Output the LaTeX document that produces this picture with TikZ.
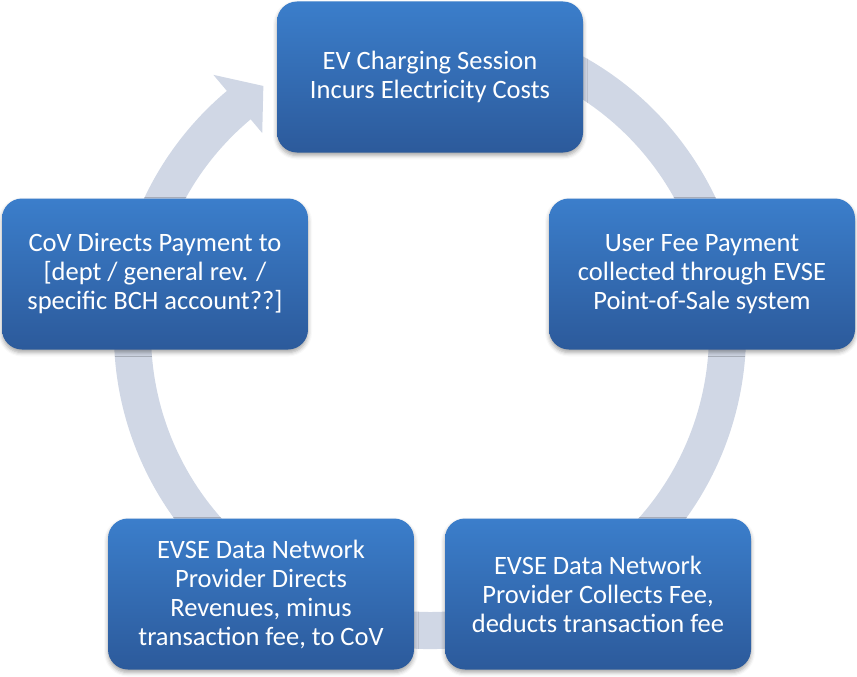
\documentclass[tikz,border=0pt]{standalone}
\usepackage{fontspec}
\setmainfont{Carlito}
\usetikzlibrary{shadows.blur}
\definecolor{boxtop}{RGB}{59,126,203}
\definecolor{boxbot}{RGB}{44,90,155}
\definecolor{ringcol}{RGB}{208,215,229}
\tikzset{
  stage/.style={rectangle, rounded corners=20pt, minimum width=306pt, minimum height=151pt,
    top color=boxtop, bottom color=boxbot, draw=none, text=white, align=center,
    font=\fontsize{26.5}{29}\selectfont, inner sep=4pt,
    blur shadow={shadow xshift=0pt, shadow yshift=-3pt, shadow blur radius=4pt, shadow opacity=35}}
}
\begin{document}
\begin{tikzpicture}[x=1pt, y=-1pt]
\useasboundingbox (0,0) rectangle (857,677);
\coordinate (ctr) at (430,333);
% circular arrow behind the stages
\fill[ringcol] ([shift={(ctr)}]-75:316) arc[start angle=-75, end angle=230, radius=316]
  -- ([shift={(ctr)}]230:337) -- ([shift={(ctr)}]236:298) -- ([shift={(ctr)}]230:261)
  -- ([shift={(ctr)}]230:279) arc[start angle=230, end angle=-75, radius=279] -- cycle;
% stages of the cycle
\node[stage] (s1) at (430,77) {EV Charging Session\\Incurs Electricity Costs};
\node[stage] (s2) at (702,274) {User Fee Payment\\collected through EVSE\\Point-of-Sale system};
\node[stage] (s3) at (598,594) {EVSE Data Network\\Provider Collects Fee,\\deducts transaction fee};
\node[stage] (s4) at (261,594) {EVSE Data Network\\Provider Directs\\Revenues, minus\\transaction fee, to CoV};
\node[stage] (s5) at (155,274) {CoV Directs Payment to\\{}[dept / general rev. /\\specific BCH account??]};
\end{tikzpicture}
\end{document}
